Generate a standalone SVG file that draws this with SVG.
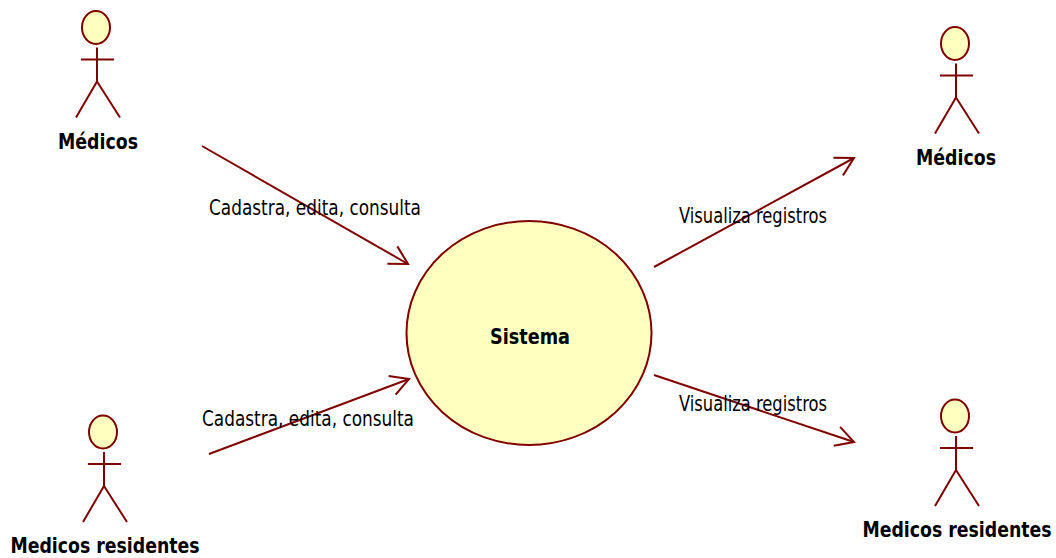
<svg xmlns="http://www.w3.org/2000/svg" width="1056" height="558" viewBox="0 0 1056 558">
<style>
.s{fill:none;stroke:#800000;stroke-width:2}
.h{fill:#ffffc0;stroke:#800000;stroke-width:2}
.c{fill:none;stroke:#800000;stroke-width:2}
text{font-family:"DejaVu Sans Condensed","DejaVu Sans",sans-serif;fill:#000}
.n{font-size:22px;font-weight:bold;text-anchor:middle}
.l{font-size:21px}
</style>
<defs>
<marker id="a" markerUnits="userSpaceOnUse" markerWidth="30" markerHeight="30" refX="20" refY="12" orient="auto" overflow="visible"><path d="M2 2L20 12L2 22" fill="none" stroke="#800000" stroke-width="2"/></marker>
<g id="actor"><ellipse class="h" cx="0" cy="0" rx="14" ry="16.500"/><path class="s" d="M1 20V54M-15 32H18M1 54L-20 90M1 54L24 90"/></g>
</defs>
<rect width="1056" height="558" fill="#fff"/>
<g id="connectors">
<path class="c" marker-end="url(#a)" d="M202 146L408 264"/>
<path class="c" marker-end="url(#a)" d="M209 454L409 379"/>
<path class="c" marker-end="url(#a)" d="M654 267L854 158"/>
<path class="c" marker-end="url(#a)" d="M654 375L854 442"/>
</g>
<g id="sistema"><ellipse class="h" cx="529" cy="333" rx="122.500" ry="112"/><text class="n" transform="translate(530,344) scale(.86,1)" textLength="93" lengthAdjust="spacingAndGlyphs">Sistema</text></g>
<g id="medicos-1"><use href="#actor" x="96" y="27.500"/><text class="n" transform="translate(98,149) scale(.86,1)" textLength="93" lengthAdjust="spacingAndGlyphs">Médicos</text></g>
<g id="residentes-1"><use href="#actor" x="103" y="432"/><text class="n" transform="translate(105,553) scale(.86,1)" textLength="220" lengthAdjust="spacingAndGlyphs">Medicos residentes</text></g>
<g id="medicos-2"><use href="#actor" x="955" y="43.500"/><text class="n" transform="translate(956,165) scale(.86,1)" textLength="93" lengthAdjust="spacingAndGlyphs">Médicos</text></g>
<g id="residentes-2"><use href="#actor" x="955" y="416"/><text class="n" transform="translate(957,537) scale(.86,1)" textLength="220" lengthAdjust="spacingAndGlyphs">Medicos residentes</text></g>
<g id="labels">
<text class="l" x="209" y="215" textLength="212" lengthAdjust="spacingAndGlyphs">Cadastra, edita, consulta</text>
<text class="l" x="202" y="426" textLength="212" lengthAdjust="spacingAndGlyphs">Cadastra, edita, consulta</text>
<text class="l" x="679" y="223" textLength="148" lengthAdjust="spacingAndGlyphs">Visualiza registros</text>
<text class="l" x="679" y="411" textLength="148" lengthAdjust="spacingAndGlyphs">Visualiza registros</text>
</g>
</svg>
